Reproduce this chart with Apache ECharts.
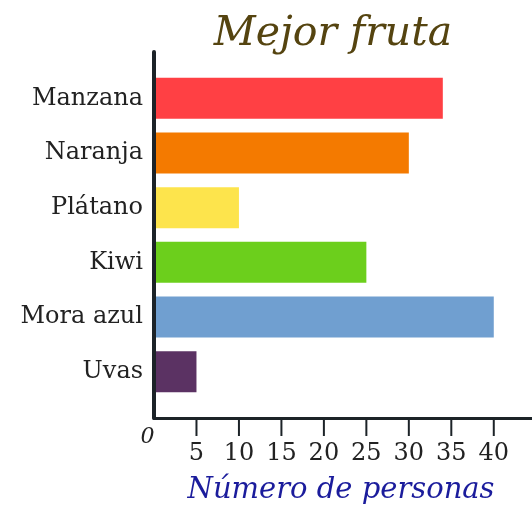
<!DOCTYPE html>
<html lang="es">
<head>
    <meta charset="UTF-8">
    <title>Mejor fruta</title>
    <script src="https://cdn.jsdelivr.net/npm/echarts@6/dist/echarts.min.js"></script>
    <style>
        html, body { margin: 0; padding: 0; background: #fff; }
    </style>
</head>
<body>
<!--contenedor del gráfico-->
<div id="chart" style="width: 532px;height: 506px;"></div>
<script>
    // datos
    var frutas = ['Manzana', 'Naranja', 'Plátano', 'Kiwi', 'Mora azul', 'Uvas'];
    var personas = [34, 30, 10, 25, 40, 5];
    var colores = ['#ff4044', '#f47a00', '#fde44c', '#6ccf1c', '#709fd0', '#5b3263'];
    var marcas = [0, 5, 10, 15, 20, 25, 30, 35, 40];

    var ejeMax = 44.5;
    var izq = 154, ancho = 378;
    var myChart = echarts.init(document.getElementById('chart'));

    var option = {
        title: {
            text: 'Mejor fruta',
            left: 328,
            textAlign: 'center',
            top: 9,
            textStyle: {
                fontFamily: 'DejaVu Serif',
                fontStyle: 'italic',
                fontWeight: 'normal',
                fontSize: 41,
                color: '#554410'
            }
        },
        grid: [
            // ejes
            {left: izq, right: 0, top: 52, bottom: 88, outerBoundsMode: 'none'},
            // barras
            {left: izq, right: 0, top: 71, bottom: 107, outerBoundsMode: 'none'}
        ],
        xAxis: [
            {
                gridIndex: 0,
                type: 'value',
                min: 0,
                max: ejeMax,
                interval: 5,
                splitLine: {show: false},
                axisLine: {lineStyle: {color: '#1c2328', width: 3}},
                axisTick: {show: false},
                axisLabel: {
                    customValues: marcas,
                    margin: 8,
                    formatter: function (v) {
                        return v === 0 ? '{o|0}' : '{n|' + v + '}';
                    },
                    rich: {
                        o: {fontFamily: 'DejaVu Serif', fontStyle: 'italic', fontSize: 22, color: '#222', padding: [0, 13, 0, 0]},
                        n: {fontFamily: 'DejaVu Serif', fontSize: 24, color: '#222', padding: [16, 0, 0, 0]}
                    }
                },
                name: 'Número de personas',
                nameLocation: 'middle',
                nameGap: 58,
                nameTextStyle: {
                    fontFamily: 'DejaVu Serif',
                    fontStyle: 'italic',
                    fontSize: 29,
                    color: '#1b1c9c',
                    padding: [0, 0, 0, 2 * (341 - izq - ancho / 2)]
                }
            },
            {
                gridIndex: 1,
                type: 'value',
                min: 0,
                max: ejeMax,
                show: false
            }
        ],
        yAxis: [
            {
                gridIndex: 0,
                type: 'value',
                min: 0,
                max: 1,
                z: 5,
                axisLine: {show: true, lineStyle: {color: '#1c2328', width: 4}},
                axisTick: {show: false},
                axisLabel: {show: false},
                splitLine: {show: false}
            },
            {
                gridIndex: 1,
                type: 'category',
                inverse: true,
                data: frutas,
                axisLine: {show: false},
                axisTick: {show: false},
                axisLabel: {
                    margin: 11,
                    fontFamily: 'DejaVu Serif',
                    fontSize: 24,
                    color: '#222'
                }
            }
        ],
        series: [
            {
                type: 'bar',
                xAxisIndex: 1,
                yAxisIndex: 1,
                barWidth: 41,
                data: personas.map(function (v, i) {
                    return {value: v, itemStyle: {color: colores[i]}};
                })
            },
            {
                // marcas del eje x, de 5 a 40 (sin marca en el origen)
                type: 'custom',
                xAxisIndex: 0,
                yAxisIndex: 0,
                clip: false,
                silent: true,
                z: 10,
                data: marcas.slice(1).map(function (v) { return [v, 0]; }),
                renderItem: function (params, api) {
                    var p = api.coord([api.value(0), 0]);
                    return {
                        type: 'line',
                        shape: {x1: p[0], y1: p[1], x2: p[0], y2: p[1] + 18},
                        style: {stroke: '#1c2328', lineWidth: 2}
                    };
                }
            }
        ]
    };
    myChart.setOption(option);
</script>
</body>
</html>
